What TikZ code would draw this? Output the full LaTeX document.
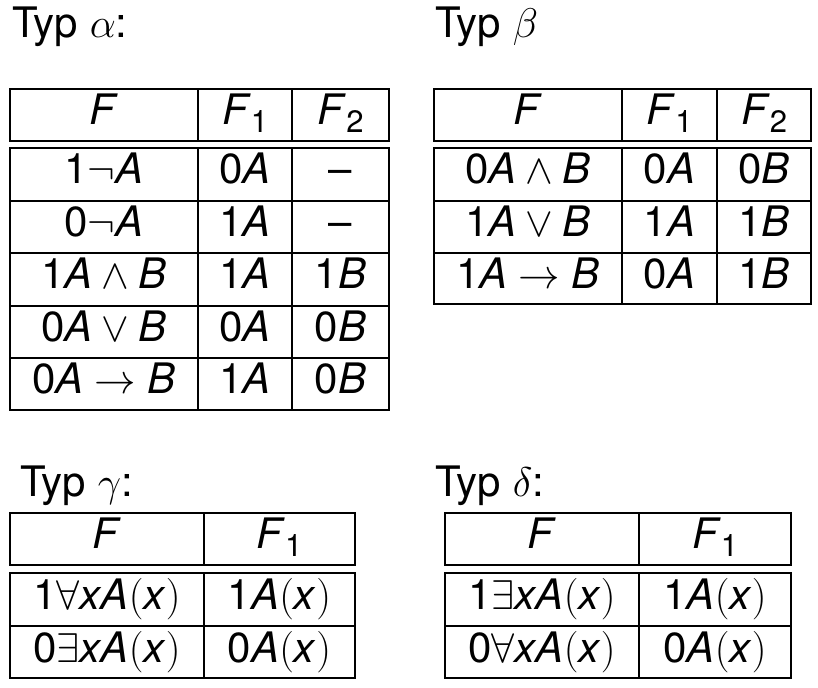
\documentclass[tikz,border=0pt]{standalone}
\usepackage{fontspec}
\setmainfont{TeX Gyre Heros}
\newcommand\mi[1]{\textit{#1}}
\newcommand\sub[1]{\raisebox{-4pt}{\fontsize{15.5}{18}\selectfont #1}}
\newcommand\px[1]{$($\mi{#1}$)$}
\newcommand\tcell[6]{%
  \draw[rule] (#2,#4) rectangle (#3,#5);
  \node[txt] (#1) at ({(#2+#3)/2},{#4+36}) {#6};}
\begin{document}
\begin{tikzpicture}[x=0.5pt,y=-0.5pt,
  rule/.style={draw=black,line width=0.8pt},
  txt/.style={inner sep=0pt,anchor=base,font=\fontsize{21}{25}\selectfont},
  title/.style={inner sep=0pt,anchor=base west,font=\fontsize{21}{25}\selectfont}]
\useasboundingbox (0,0) rectangle (818,688);
% ---- alpha
\node[title] (ta) at (12,38) {Typ $\alpha$:};
\tcell{aH0}{10}{198}{89}{141}{\mi{F}}
\tcell{aH1}{198}{292}{89}{141}{\mi{F}\sub{1}}
\tcell{aH2}{292}{389}{89}{141}{\mi{F}\sub{2}}
\tcell{a10}{10}{198}{148}{201}{1$\neg$\mi{A}}
\tcell{a11}{198}{292}{148}{201}{0\mi{A}}
\tcell{a12}{292}{389}{148}{201}{\textendash}
\tcell{a20}{10}{198}{201}{253}{0$\neg$\mi{A}}
\tcell{a21}{198}{292}{201}{253}{1\mi{A}}
\tcell{a22}{292}{389}{201}{253}{\textendash}
\tcell{a30}{10}{198}{253}{306}{1\mi{A}${}\wedge{}$\mi{B}}
\tcell{a31}{198}{292}{253}{306}{1\mi{A}}
\tcell{a32}{292}{389}{253}{306}{1\mi{B}}
\tcell{a40}{10}{198}{306}{358}{0\mi{A}${}\vee{}$\mi{B}}
\tcell{a41}{198}{292}{306}{358}{0\mi{A}}
\tcell{a42}{292}{389}{306}{358}{0\mi{B}}
\tcell{a50}{10}{198}{358}{410}{0\mi{A}${}\rightarrow{}$\mi{B}}
\tcell{a51}{198}{292}{358}{410}{1\mi{A}}
\tcell{a52}{292}{389}{358}{410}{0\mi{B}}
% ---- beta
\node[title] (tb) at (435,38) {Typ $\beta$};
\tcell{bH0}{434}{622}{89}{141}{\mi{F}}
\tcell{bH1}{622}{717}{89}{141}{\mi{F}\sub{1}}
\tcell{bH2}{717}{811}{89}{141}{\mi{F}\sub{2}}
\tcell{b10}{434}{622}{148}{201}{0\mi{A}${}\wedge{}$\mi{B}}
\tcell{b11}{622}{717}{148}{201}{0\mi{A}}
\tcell{b12}{717}{811}{148}{201}{0\mi{B}}
\tcell{b20}{434}{622}{201}{253}{1\mi{A}${}\vee{}$\mi{B}}
\tcell{b21}{622}{717}{201}{253}{1\mi{A}}
\tcell{b22}{717}{811}{201}{253}{1\mi{B}}
\tcell{b30}{434}{622}{253}{304}{1\mi{A}${}\rightarrow{}$\mi{B}}
\tcell{b31}{622}{717}{253}{304}{0\mi{A}}
\tcell{b32}{717}{811}{253}{304}{1\mi{B}}
% ---- gamma
\node[title] (tg) at (20,497) {Typ $\gamma$:};
\tcell{gH0}{10}{204}{513}{565}{\mi{F}}
\tcell{gH1}{204}{355}{513}{565}{\mi{F}\sub{1}}
\tcell{g10}{10}{204}{573}{626}{1$\forall$\mi{xA}\px{x}}
\tcell{g11}{204}{355}{573}{626}{1\mi{A}\px{x}}
\tcell{g20}{10}{204}{626}{678}{0$\exists$\mi{xA}\px{x}}
\tcell{g21}{204}{355}{626}{678}{0\mi{A}\px{x}}
% ---- delta
\node[title] (td) at (435,497) {Typ $\delta$:};
\tcell{dH0}{445}{639}{513}{565}{\mi{F}}
\tcell{dH1}{639}{791}{513}{565}{\mi{F}\sub{1}}
\tcell{d10}{445}{639}{573}{626}{1$\exists$\mi{xA}\px{x}}
\tcell{d11}{639}{791}{573}{626}{1\mi{A}\px{x}}
\tcell{d20}{445}{639}{626}{678}{0$\forall$\mi{xA}\px{x}}
\tcell{d21}{639}{791}{626}{678}{0\mi{A}\px{x}}
\end{tikzpicture}
\end{document}
